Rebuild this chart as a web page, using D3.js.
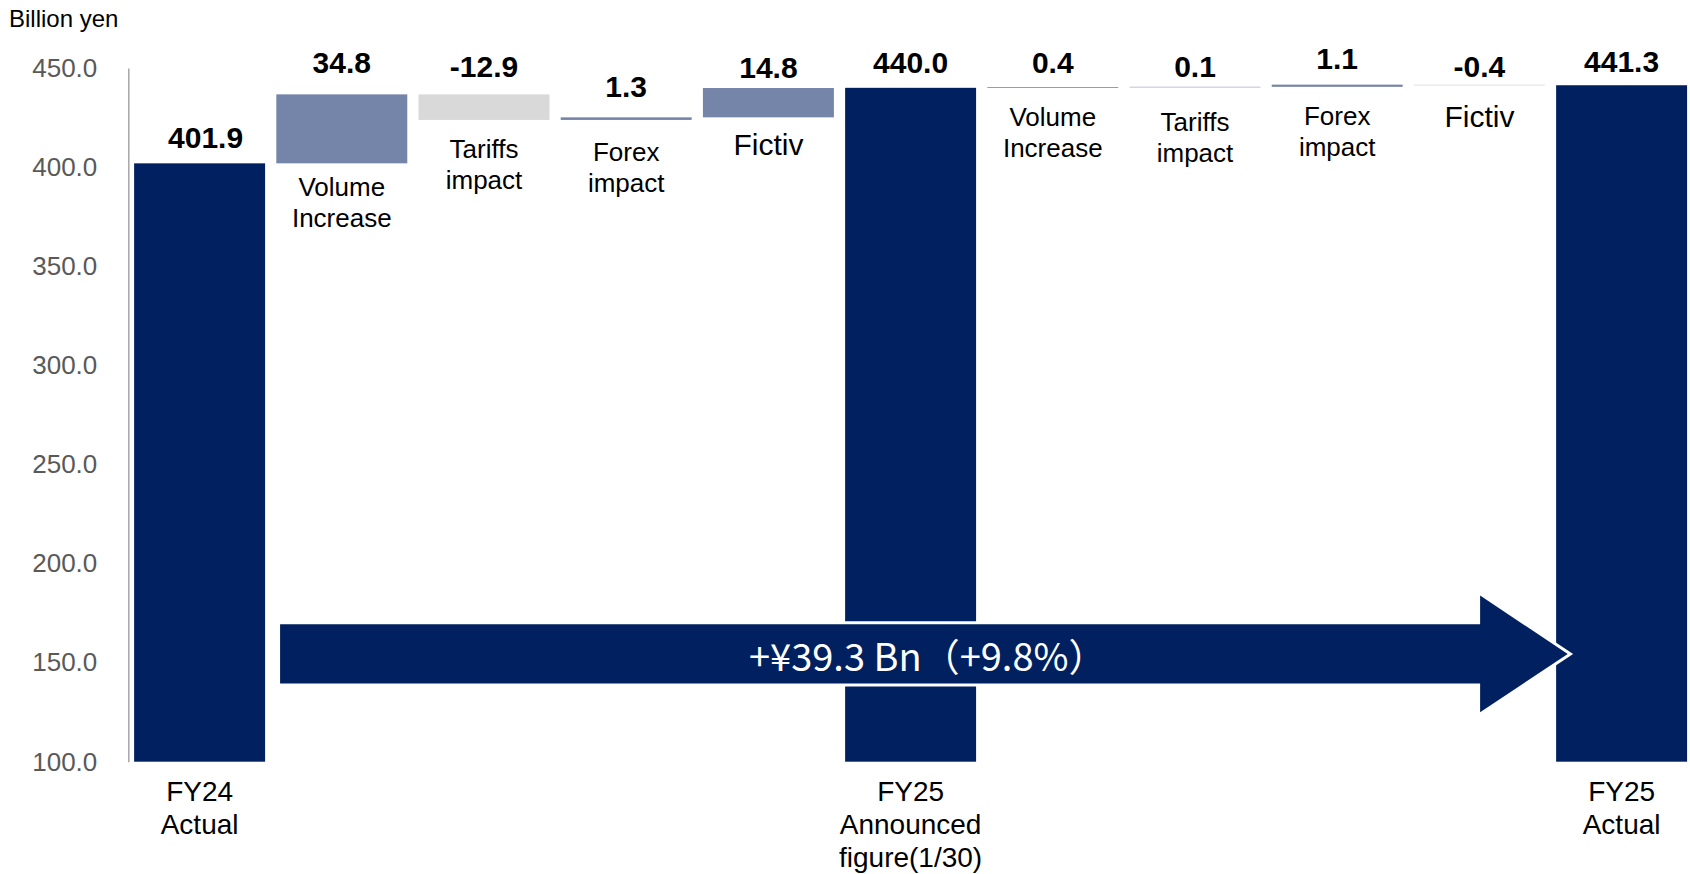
<!DOCTYPE html>
<html>
<head>
<meta charset="utf-8">
<script src="https://cdn.jsdelivr.net/npm/d3@7"></script>
<style>
  body { margin: 0; background: #fff; }
  svg { display: block; font-family: "Liberation Sans", Arial, sans-serif; }
</style>
</head>
<body>
<div id="container"></div>
<script>
// chart data
const categories = ["FY24 Actual", "Volume Increase", "Tariffs impact", "Forex impact", "Fictiv",
  "FY25 Announced figure(1/30)", "Volume Increase", "Tariffs impact", "Forex impact", "Fictiv", "FY25 Actual"];
const kinds = ["total", "delta", "delta", "delta", "delta", "total", "delta", "delta", "delta", "delta", "total"];
const values = [401.9, 34.8, -12.9, 1.3, 14.8, 440.0, 0.4, 0.1, 1.1, -0.4, 441.3];
const labelLines = [["FY24", "Actual"], ["Volume", "Increase"], ["Tariffs", "impact"], ["Forex", "impact"], ["Fictiv"],
  ["FY25", "Announced", "figure(1/30)"], ["Volume", "Increase"], ["Tariffs", "impact"], ["Forex", "impact"], ["Fictiv"],
  ["FY25", "Actual"]];
const yTicks = [100, 150, 200, 250, 300, 350, 400, 450];
const unitLabel = "Billion yen";
const arrowText = "+¥39.3 Bn（+9.8%）";
const arrowValue = 154.4;   // centre of the arrow on the value axis
const arrowBody = 14.9;     // half height of the shaft, in value units
const arrowHead = 29.4;     // half height of the head, in value units

// layout: small hand nudges of the text boxes (px), like in the slide
const valueNudge = [-2, -8, -4, -7, 3, -2, -1, 3, -3, 5, 0];
const nameNudge = [0, -5, 0, 3, 0, 0, 0, 6, 0, 4, 0];

const width = 1690, height = 874;
const navy = "#002060", slate = "#7585a9", grey = "#d9d9d9";
const fmt = v => d3.format(".1f")(v).replace("−", "-");

// waterfall steps
let running = 0;
const bars = values.map((v, i) => {
  let lo, hi;
  if (kinds[i] === "total") { lo = 100; hi = v; running = v; }
  else { const start = running; running += v; lo = Math.min(start, running); hi = Math.max(start, running); }
  return { i, v, kind: kinds[i], lo, hi, name: categories[i], lines: labelLines[i] };
});

const xScale = d3.scaleBand()
  .domain(d3.range(categories.length))
  .range([128.5, 1692.7])
  .paddingInner(0.079)
  .paddingOuter(0.0395);

const yScale = d3.scaleLinear()
  .domain([100, 450])
  .range([761.7, 68]);

const svg = d3.select("#container").append("svg")
  .attr("width", width)
  .attr("height", height);

// unit label
svg.append("text")
  .attr("x", 9).attr("y", 27)
  .attr("font-size", "24px")
  .attr("fill", "#000")
  .text(unitLabel);

// y axis
const yAxis = d3.axisLeft(yScale)
  .tickValues(yTicks)
  .tickFormat(d3.format(".1f"))
  .tickSizeInner(0).tickSizeOuter(0)
  .tickPadding(31);

const yAxisGroup = svg.append("g")
  .attr("transform", `translate(${128.3},0)`)
  .call(yAxis);
yAxisGroup.select(".domain").attr("stroke", "#a6a6a6").attr("stroke-width", 1.5);
yAxisGroup.selectAll("text")
  .attr("font-family", "Liberation Sans, Arial, sans-serif")
  .attr("font-size", "26px")
  .attr("fill", "#595959");

// bars
svg.selectAll("rect.bar")
  .data(bars)
  .join("rect")
  .attr("class", "bar")
  .attr("x", d => xScale(d.i))
  .attr("width", xScale.bandwidth())
  .attr("y", d => yScale(d.hi))
  .attr("height", d => Math.max(0.5, yScale(d.lo) - yScale(d.hi)))
  .attr("fill", d => d.kind === "total" ? navy : (d.v >= 0 ? slate : grey));

// value labels
svg.selectAll("text.value")
  .data(bars)
  .join("text")
  .attr("class", "value")
  .attr("x", d => xScale(d.i) + xScale.bandwidth() / 2 + (d.i === 0 ? 6 : 0))
  .attr("y", d => yScale(d.hi) - 13 + valueNudge[d.i])
  .attr("text-anchor", "middle")
  .attr("font-size", "30px")
  .attr("font-weight", "bold")
  .attr("fill", "#000")
  .text(d => fmt(d.v));

// category names under the step bars
const deltaLabels = svg.selectAll("text.cat")
  .data(bars.filter(d => d.kind === "delta"))
  .join("text")
  .attr("class", "cat")
  .attr("text-anchor", "middle")
  .attr("font-size", d => d.lines.length === 1 ? "30px" : "26px")
  .attr("fill", "#000");
deltaLabels.selectAll("tspan")
  .data(d => d.lines.map((t, k) => ({ t, k, d })))
  .join("tspan")
  .attr("x", o => xScale(o.d.i) + xScale.bandwidth() / 2)
  .attr("y", o => yScale(o.d.lo) + 38 + nameNudge[o.d.i] + o.k * 31)
  .text(o => o.t);

// category names under the totals
const totalLabels = svg.selectAll("text.total")
  .data(bars.filter(d => d.kind === "total"))
  .join("text")
  .attr("class", "total")
  .attr("text-anchor", "middle")
  .attr("font-size", "28px")
  .attr("fill", "#000");
totalLabels.selectAll("tspan")
  .data(d => d.lines.map((t, k) => ({ t, k, d })))
  .join("tspan")
  .attr("x", o => xScale(o.d.i) + xScale.bandwidth() / 2)
  .attr("y", o => 801 + o.k * 33)
  .text(o => o.t);

// growth arrow from FY24 actual to FY25 actual
const last = categories.length - 1;
const xStart = xScale(0) + xScale.bandwidth() + 15;
const xTip = xScale(last) + 11.6;
const xNeck = xScale(last) - 76;
const arrowPts = [
  [xStart, yScale(arrowValue + arrowBody)],
  [xNeck, yScale(arrowValue + arrowBody)],
  [xNeck, yScale(arrowValue + arrowHead)],
  [xTip, yScale(arrowValue)],
  [xNeck, yScale(arrowValue - arrowHead)],
  [xNeck, yScale(arrowValue - arrowBody)],
  [xStart, yScale(arrowValue - arrowBody)]
];
svg.append("path")
  .attr("d", d3.line()(arrowPts) + "Z")
  .attr("fill", navy)
  .attr("stroke", "#fff")
  .attr("stroke-width", 6)
  .attr("stroke-linejoin", "miter")
  .style("paint-order", "stroke");

svg.append("text")
  .attr("x", 749)
  .attr("y", yScale(arrowValue) + 3)
  .attr("dy", "0.36em")
  .attr("font-family", "Noto Sans CJK JP, Noto Sans, sans-serif")
  .attr("font-size", "38px")
  .attr("fill", "#fff")
  .text(arrowText);
</script>
</body>
</html>
